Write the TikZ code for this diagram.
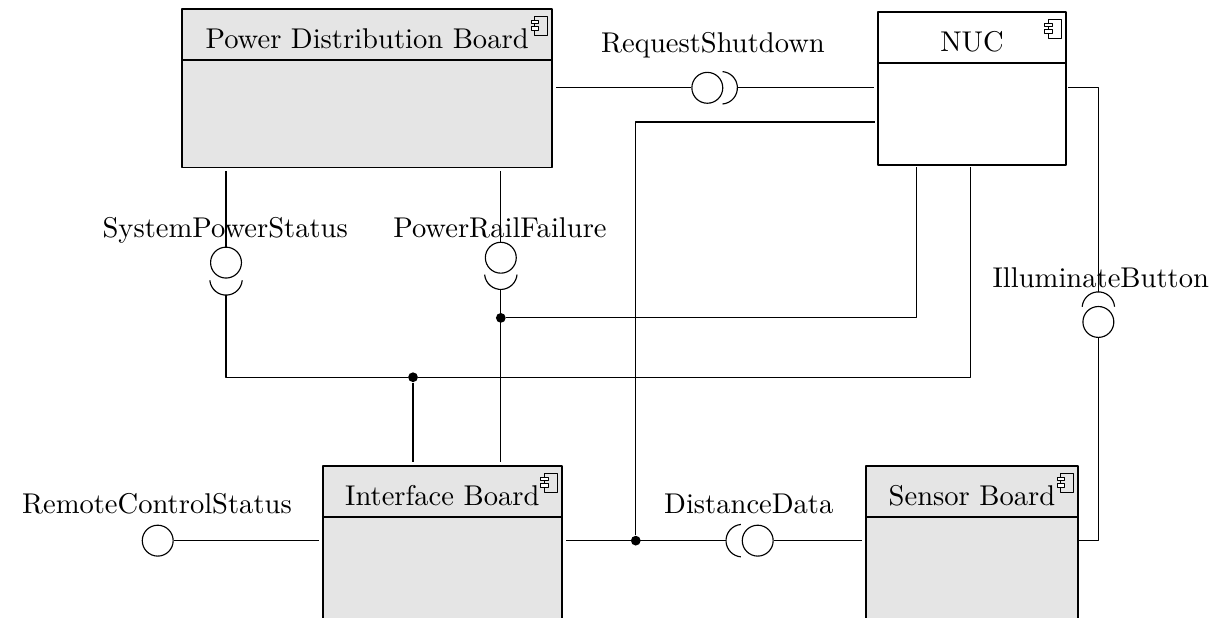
\documentclass[tikz,border=0pt]{standalone}
\usetikzlibrary{positioning}

\definecolor{boardgray}{gray}{0.9}

\begin{document}
\begin{tikzpicture}[
    line join=round,
    board/.style={
        draw,
        line width=0.6pt,
        fill=boardgray,
        anchor=north west,
        inner sep=0pt
    },
    wire/.style={
        line width=0.4pt
    },
    ball/.style={
        circle,
        draw,
        fill=white,
        line width=0.4pt,
        inner sep=0pt,
        minimum size=0.38cm
    },
    joint/.style={
        circle,
        fill=black,
        inner sep=0pt,
        minimum size=0.12cm
    },
    socket/.pic={
        \draw[wire] (-85:0.2) arc[start angle=-85, end angle=85, radius=0.2];
    },
    compicon/.pic={
        \draw[line width=0.3pt] (0,0) rectangle (-0.155,-0.24);
        \draw[line width=0.3pt, fill=white] (-0.2,-0.05) rectangle (-0.11,-0.09);
        \draw[line width=0.3pt, fill=white] (-0.2,-0.13) rectangle (-0.11,-0.17);
    },
    every node/.style={
        font=\normalsize
    }
]

\useasboundingbox (0,0) rectangle (15.08,-7.59);
\clip (0,0) rectangle (15.08,-7.59);

% =================================================
% Платы
% =================================================

\node[board, minimum width=4.55cm, minimum height=1.95cm] (pdb) at (2.23,-0.10) {};
\node[board, fill=white, minimum width=2.31cm, minimum height=1.885cm] (nuc) at (10.79,-0.135) {};
\node[board, minimum width=2.94cm, minimum height=2.6cm] (ifb) at (3.96,-5.72) {};
\node[board, minimum width=2.61cm, minimum height=2.6cm] (snb) at (10.64,-5.72) {};

% Заголовок и значок компонента
\foreach \b in {pdb,nuc,ifb,snb} {
    \draw[line width=0.6pt] ([yshift=-0.64cm]\b.north west) -- ([yshift=-0.64cm]\b.north east);
    \pic at ([xshift=-0.07cm,yshift=-0.1cm]\b.north east) {compicon};
}

\node[anchor=base] (pdbtitle) at ([yshift=-0.5cm]pdb.north) {Power Distribution Board};
\node[anchor=base] (nuctitle) at ([yshift=-0.5cm]nuc.north) {NUC};
\node[anchor=base] (ifbtitle) at ([yshift=-0.5cm]ifb.north) {Interface Board};
\node[anchor=base] (snbtitle) at ([yshift=-0.5cm]snb.north) {Sensor Board};

% =================================================
% Интерфейсы
% =================================================

% RequestShutdown
\node[ball] (rsball) at (8.70,-1.08) {};
\pic at (8.87,-1.08) {socket};
\coordinate (rsend) at (9.07,-1.08);
\node[anchor=base] (rslabel) at (8.77,-0.65) {RequestShutdown};

% SystemPowerStatus
\node[ball] (spsball) at (2.78,-3.23) {};
\pic[rotate=-90] at (2.78,-3.43) {socket};
\coordinate (spsend) at (2.78,-3.63);
\node[anchor=base] (spslabel) at (2.77,-2.92) {SystemPowerStatus};

% PowerRailFailure
\node[ball] (prfball) at (6.16,-3.17) {};
\pic[rotate=-90] at (6.16,-3.36) {socket};
\coordinate (prfend) at (6.16,-3.56);
\node[anchor=base] (prflabel) at (6.15,-2.92) {PowerRailFailure};

% IlluminateButton
\node[ball] (ibball) at (13.51,-3.96) {};
\pic[rotate=90] at (13.51,-3.79) {socket};
\coordinate (ibend) at (13.51,-3.59);
\node[anchor=base] (iblabel) at (13.54,-3.54) {IlluminateButton};

% RemoteControlStatus
\node[ball] (rcsball) at (1.94,-6.65) {};
\node[anchor=base] (rcslabel) at (1.93,-6.31) {RemoteControlStatus};

% DistanceData
\node[ball] (ddball) at (9.32,-6.65) {};
\pic[rotate=180] at (9.13,-6.65) {socket};
\coordinate (ddend) at (8.93,-6.65);
\node[anchor=base] (ddlabel) at (9.21,-6.31) {DistanceData};

% =================================================
% Соединения
% =================================================

\node[joint] (prfjoint) at (6.16,-3.91) {};
\node[joint] (spsjoint) at (5.08,-4.64) {};
\node[joint] (ddjoint)  at (7.82,-6.65) {};

\coordinate (nucport1) at (11.27,-2.05);
\coordinate (nucport2) at (11.94,-2.05);
\coordinate (nucport3) at (10.76,-1.50);
\coordinate (nucport4) at (13.14,-1.08);
\coordinate (snbport)  at (13.27,-6.65);

\draw[wire, shorten <=1.2pt] (rsball -| pdb.east) -- (rsball.west);
\draw[wire, shorten >=1pt] (rsend) -- (rsend -| nuc.west);

\draw[wire, shorten <=1pt] (spsball |- pdb.south) -- (spsball.north);
\draw[wire] (spsend) |- (spsjoint) -| (nucport2);
\draw[wire, shorten >=1pt] (spsjoint) -- (spsjoint |- ifb.north);

\draw[wire, shorten <=1pt] (prfball |- pdb.south) -- (prfball.north);
\draw[wire, shorten >=1pt] (prfend) -- (prfend |- ifb.north);
\draw[wire] (prfjoint) -| (nucport1);

\draw[wire] (nucport3) -| (ddjoint);

\draw[wire] (nucport4) -| (ibend);
\draw[wire] (ibball.south) |- (snbport);

\draw[wire, shorten >=1pt] (rcsball.east) -- (rcsball -| ifb.west);

\draw[wire, shorten <=1.2pt] (ifb.east |- ddjoint) -- (ddend);
\draw[wire, shorten >=1pt] (ddball.east) -- (ddball -| snb.west);

\end{tikzpicture}
\end{document}
